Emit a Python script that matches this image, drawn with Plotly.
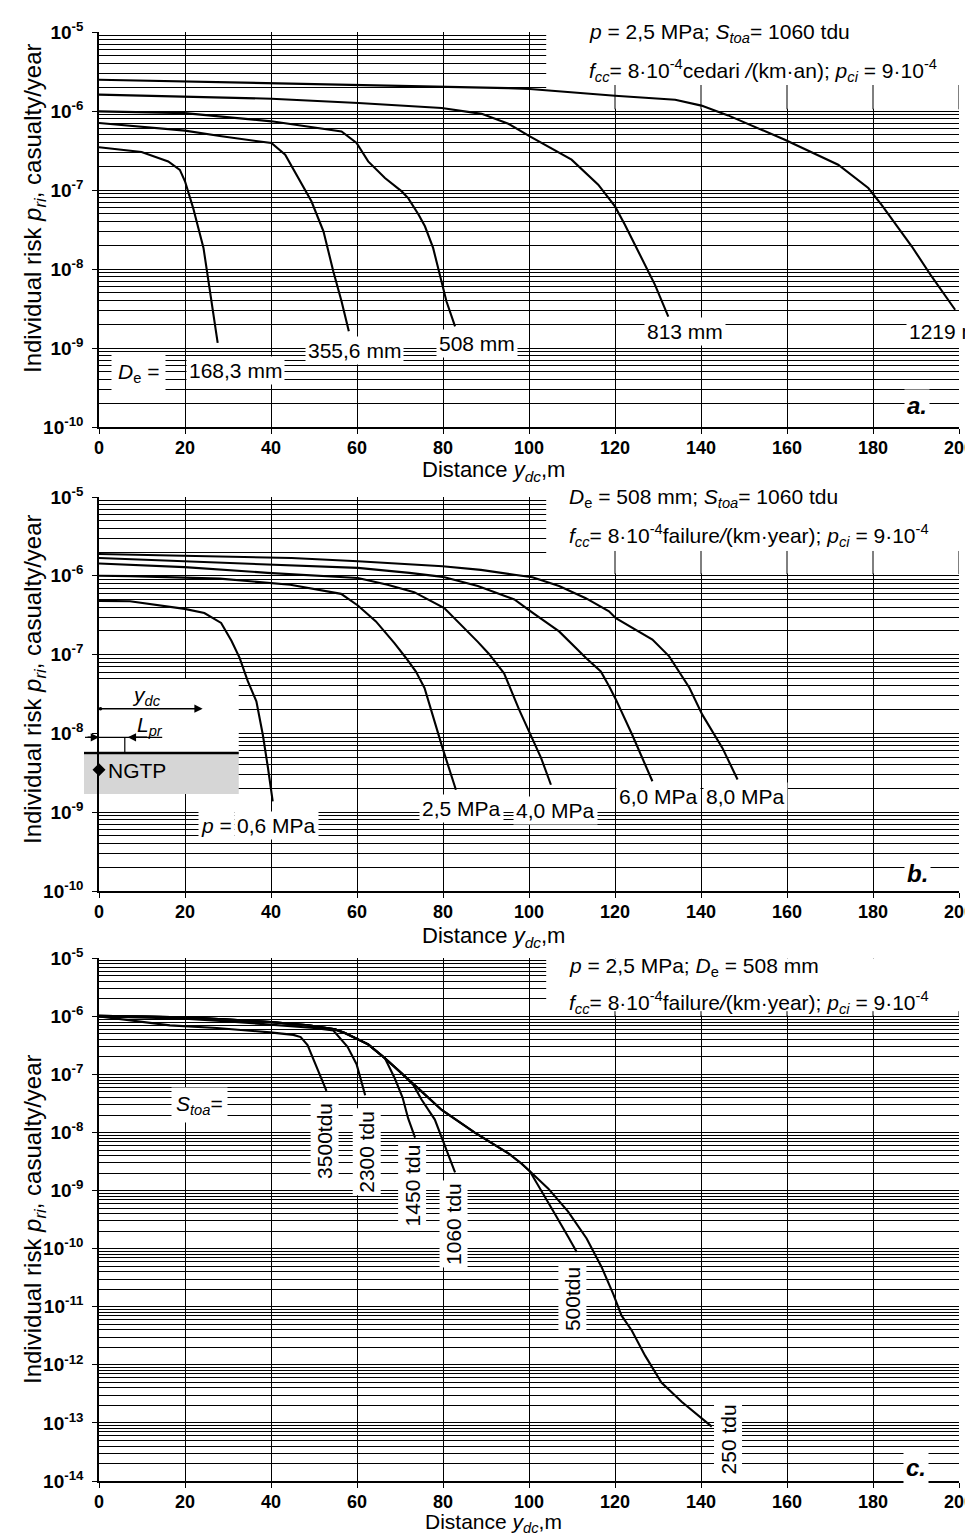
import math
import plotly.graph_objects as go

# ---------------------------------------------------------------- data
X_TICKS = [0, 20, 40, 60, 80, 100, 120, 140, 160, 180, 200]
Y_TICKS_AB = [1e-10, 1e-9, 1e-8, 1e-7, 1e-6, 1e-5]
Y_TEXT_AB = ["10<sup>-10</sup>", "10<sup>-9</sup>", "10<sup>-8</sup>",
             "10<sup>-7</sup>", "10<sup>-6</sup>", "10<sup>-5</sup>"]
Y_TICKS_C = [1e-14, 1e-13, 1e-12, 1e-11, 1e-10, 1e-9, 1e-8, 1e-7, 1e-6, 1e-5]
Y_TEXT_C = ["10<sup>-14</sup>", "10<sup>-13</sup>", "10<sup>-12</sup>", "10<sup>-11</sup>",
            "10<sup>-10</sup>", "10<sup>-9</sup>", "10<sup>-8</sup>", "10<sup>-7</sup>",
            "10<sup>-6</sup>", "10<sup>-5</sup>"]

# Panel a - outer diameter D_e
A_LABELS = ["168,3 mm", "355,6 mm", "508 mm", "813 mm", "1219 mm"]
A_X_168 = [0, 9.9, 16.1, 18.8, 20.0, 21.9, 24.3, 25.4, 26.2, 27.6]
A_Y_168 = [3.47e-7, 3.03e-7, 2.3e-7, 1.8e-7, 1.29e-7, 5.9e-8, 1.85e-8, 7.7e-9, 3.9e-9, 1.16e-9]
A_X_356 = [0, 20, 28.5, 34.7, 40.1, 43.3, 46.3, 49.4, 52.2, 54.5, 56.4, 58.1]
A_Y_356 = [7.05e-7, 5.64e-7, 4.78e-7, 4.33e-7, 3.93e-7, 2.8e-7, 1.42e-7, 7.2e-8, 3.0e-8,
           9.3e-9, 3.9e-9, 1.63e-9]
A_X_508 = [0, 20, 28.5, 40.1, 56.4, 59.9, 62.6, 66.5, 70.4, 71.9, 74.3, 75.8, 77.7, 79.7,
           80.8, 82.8]
A_Y_508 = [9.9e-7, 9.4e-7, 8.5e-7, 7.4e-7, 5.5e-7, 3.93e-7, 2.3e-7, 1.42e-7, 9.6e-8, 7.9e-8,
           4.9e-8, 3.47e-8, 1.85e-8, 7.0e-9, 3.9e-9, 1.88e-9]
A_X_813 = [0, 20, 40.1, 60.3, 79.7, 89, 95.2, 100.2, 109.9, 116.1, 120, 122.3, 126.2,
           129.3, 132.4]
A_Y_813 = [1.61e-6, 1.53e-6, 1.43e-6, 1.26e-6, 1.09e-6, 9.2e-7, 6.9e-7, 4.78e-7, 2.42e-7,
           1.17e-7, 6.2e-8, 3.64e-8, 1.38e-8, 6.3e-9, 2.5e-9]
A_X_1219 = [0, 40, 60.3, 95.2, 100.2, 120, 134, 140.1, 146.3, 159.5, 171.9, 178.9, 182,
            189, 193.6, 199.1]
A_Y_1219 = [2.49e-6, 2.26e-6, 2.11e-6, 1.95e-6, 1.9e-6, 1.56e-6, 1.39e-6, 1.17e-6, 8.8e-7,
            4.33e-7, 2.09e-7, 1.06e-7, 6.5e-8, 1.94e-8, 8.1e-9, 3.05e-9]

# Panel b - pressure p
B_LABELS = ["0,6 MPa", "2,5 MPa", "4,0 MPa", "6,0 MPa", "8,0 MPa"]
B_X_06 = [0, 7.2, 19.9, 24.5, 28.4, 30.8, 32.7, 34.6, 36.6, 38.1, 39.3, 40.4]
B_Y_06 = [4.8e-7, 4.75e-7, 3.8e-7, 3.37e-7, 2.52e-7, 1.5e-7, 9.1e-8, 4.6e-8, 2.55e-8,
          9.6e-9, 3.64e-9, 1.37e-9]
B_X_25 = [0, 7.2, 28.1, 44.5, 56.3, 60.2, 64.4, 68.7, 71.4, 73.7, 75.7, 78.0, 79.9, 83.0]
B_Y_25 = [1.0e-6, 9.9e-7, 9.2e-7, 7.7e-7, 5.9e-7, 4.2e-7, 2.64e-7, 1.4e-7, 9.06e-8, 6.1e-8,
          3.77e-8, 1.43e-8, 6.5e-9, 1.93e-9]
B_X_40 = [0, 19.9, 39.2, 60.2, 67.1, 73.3, 80.3, 85.3, 88.1, 90.7, 94.2, 97.7, 100.4,
          102.8, 105.1]
B_Y_40 = [1.43e-6, 1.29e-6, 1.09e-6, 9.4e-7, 7.7e-7, 6.2e-7, 3.9e-7, 2.1e-7, 1.45e-7,
          1.02e-7, 5.8e-8, 2.0e-8, 9.6e-9, 4.9e-9, 2.23e-9]
B_X_60 = [0, 19.1, 39.2, 60.2, 72.2, 79.9, 88.1, 91.5, 96.6, 100.8, 107.0, 113.2, 116.7,
          118.6, 120.2, 124.0, 126.4, 128.7]
B_Y_60 = [1.68e-6, 1.53e-6, 1.38e-6, 1.26e-6, 1.09e-6, 9.7e-7, 7.4e-7, 6.35e-7, 5.0e-7,
          3.4e-7, 1.97e-7, 9.1e-8, 6.1e-8, 4.0e-8, 2.7e-8, 9.6e-9, 4.9e-9, 2.47e-9]
B_X_80 = [0, 30.0, 44.8, 60.2, 74.1, 79.9, 88.8, 91.5, 96.6, 100.8, 107.0, 113.2, 118.6,
          120.2, 128.7, 132.6, 137.3, 140.3, 145.0, 148.5]
B_Y_80 = [1.89e-6, 1.77e-6, 1.68e-6, 1.53e-6, 1.38e-6, 1.32e-6, 1.19e-6, 1.14e-6, 1.03e-6,
          9.6e-7, 7.4e-7, 5.2e-7, 3.54e-7, 2.9e-7, 1.55e-7, 9.5e-8, 3.8e-8, 1.73e-8,
          6.5e-9, 2.6e-9]
B_NGTP_X = [0]
B_NGTP_Y = [3.46e-9]

# Panel c - S_toa
C_LABELS = ["3500tdu", "2300 tdu", "1450 tdu", "1060 tdu", "500tdu", "250 tdu"]
C_X_250 = [0, 10, 20, 30, 40, 48.7, 54.9, 57.2, 62.6, 66.5, 70.4, 74.3, 79.7, 87.4, 95.2,
           98.3, 100.2, 104.5, 109.1, 113.4, 116.9, 119.6, 121.5, 123.9, 127.0, 130.8,
           135.5, 142.5]
C_Y_250 = [1.02e-6, 1.0e-6, 9.6e-7, 8.8e-7, 8.0e-7, 7.0e-7, 6.0e-7, 5.2e-7, 3.3e-7, 1.9e-7,
           1.05e-7, 5.7e-8, 2.45e-8, 1.0e-8, 4.4e-9, 2.9e-9, 2.15e-9, 1.08e-9, 4.35e-10,
           1.5e-10, 4.8e-11, 1.65e-11, 7.1e-12, 3.9e-12, 1.44e-12, 4.97e-13, 2.32e-13,
           8.65e-14]
C_X_500 = [0, 10, 20, 30, 40, 48.7, 54.9, 57.2, 62.6, 66.5, 70.4, 74.3, 79.7, 87.4, 95.2,
           98.3, 100.2, 102.9, 106.0, 109.1, 111.1]
C_Y_500 = [1.02e-6, 1.0e-6, 9.6e-7, 8.8e-7, 8.0e-7, 7.0e-7, 6.0e-7, 5.2e-7, 3.3e-7, 1.9e-7,
           1.05e-7, 5.7e-8, 2.45e-8, 1.0e-8, 4.4e-9, 2.9e-9, 2.15e-9, 1.0e-9, 4.0e-10,
           1.6e-10, 8.8e-11]
C_X_1060 = [0, 10, 20, 30, 40, 48.7, 54.9, 57.2, 62.6, 66.5, 70.4, 73.1, 75.0, 78.1, 80.5,
            82.8]
C_Y_1060 = [1.02e-6, 1.0e-6, 9.6e-7, 8.8e-7, 8.0e-7, 7.0e-7, 6.0e-7, 5.2e-7, 3.3e-7, 1.9e-7,
            1.05e-7, 6.6e-8, 3.7e-8, 1.67e-8, 5.9e-9, 2.06e-9]
C_X_1450 = [0, 10, 20, 30, 40, 48.7, 54.9, 57.2, 62.6, 66.5, 68.8, 70.6, 71.9, 73.5]
C_Y_1450 = [1.0e-6, 9.9e-7, 9.5e-7, 8.7e-7, 7.9e-7, 6.9e-7, 5.9e-7, 5.1e-7, 3.3e-7, 1.9e-7,
            8.5e-8, 4.0e-8, 1.75e-8, 8.2e-9]
C_X_2300 = [0, 10, 20, 30, 40, 50, 54.5, 57.8, 59.9, 61.1, 61.9]
C_Y_2300 = [1.0e-6, 9.6e-7, 9.1e-7, 8.2e-7, 7.2e-7, 6.3e-7, 5.7e-7, 3.0e-7, 1.5e-7, 7.3e-8,
            4.4e-8]
C_X_3500 = [0, 10.3, 16.5, 27.4, 35.9, 39.8, 45.2, 46.9, 48.5, 50.0, 51.6, 52.9]
C_Y_3500 = [1.0e-6, 8.1e-7, 7.0e-7, 6.3e-7, 5.7e-7, 5.3e-7, 4.8e-7, 4.4e-7, 3.2e-7, 1.7e-7,
            9.0e-8, 5.2e-8]

# ---------------------------------------------------------------- layout constants
FONT = "Liberation Sans, Arial, Helvetica, sans-serif"
W, H = 973, 1536
C_TOP, C_BOT = 950.3, 1473.0
ML, MR, MT = 91, 22, 24
MB = H - C_BOT
PW = W - ML - MR
PH = H - MT - MB
BASE = H - MB  # pixel row of the bottom of the plotting area


def pap(px, py):
    return (px - ML) / PW, (BASE - py) / PH


def ydom(top_py, bot_py):
    return [(BASE - bot_py) / PH, (BASE - top_py) / PH]


def cpy(py):
    """Map a row measured with panel c spanning 950.3..1479 onto the drawn panel c."""
    return C_TOP + (py - 950.3) * (C_BOT - C_TOP) / (1479.0 - 950.3)


PANELS = [
    dict(s="", top=24.0, bot=419.0, lo=-10, hi=-5, ticks=Y_TICKS_AB, text=Y_TEXT_AB),
    dict(s="2", top=489.0, bot=883.0, lo=-10, hi=-5, ticks=Y_TICKS_AB, text=Y_TEXT_AB),
    dict(s="3", top=C_TOP, bot=C_BOT, lo=-14, hi=-5, ticks=Y_TICKS_C, text=Y_TEXT_C),
]

fig = go.Figure()
LINE = dict(color="black", width=2.1)


def add_curve(x, y, s):
    fig.add_trace(go.Scatter(x=x, y=y, mode="lines", line=LINE, xaxis="x" + s,
                             yaxis="y" + s, showlegend=False, hoverinfo="skip"))


for xs, ys in [(A_X_168, A_Y_168), (A_X_356, A_Y_356), (A_X_508, A_Y_508),
               (A_X_813, A_Y_813), (A_X_1219, A_Y_1219)]:
    add_curve(xs, ys, "")
for xs, ys in [(B_X_06, B_Y_06), (B_X_25, B_Y_25), (B_X_40, B_Y_40),
               (B_X_60, B_Y_60), (B_X_80, B_Y_80)]:
    add_curve(xs, ys, "2")
for xs, ys in [(C_X_3500, C_Y_3500), (C_X_2300, C_Y_2300), (C_X_1450, C_Y_1450),
               (C_X_1060, C_Y_1060), (C_X_500, C_Y_500), (C_X_250, C_Y_250)]:
    add_curve(xs, ys, "3")

fig.add_trace(go.Scatter(x=B_NGTP_X, y=B_NGTP_Y, mode="markers", xaxis="x2", yaxis="y2",
                         marker=dict(symbol="diamond", size=10, color="black"),
                         cliponaxis=False, showlegend=False, hoverinfo="skip"))

layout = dict(width=W, height=H, margin=dict(l=ML, r=MR, t=MT, b=MB, autoexpand=False),
              paper_bgcolor="white", plot_bgcolor="white", showlegend=False,
              template="none", font=dict(family=FONT, color="black"))

for p in PANELS:
    s = p["s"]
    minor_vals = [m * 10.0 ** k for k in range(p["lo"], p["hi"]) for m in range(2, 10)]
    layout["xaxis" + s] = dict(
        domain=[0, 1], anchor="y" + s, range=[0, 200], tickmode="array",
        tickvals=X_TICKS, ticktext=[str(v) for v in X_TICKS], automargin=False,
        showgrid=True, gridcolor="black", gridwidth=1, zeroline=False,
        showline=True, linecolor="black", linewidth=1.5, ticks="outside", ticklen=5,
        ticklabelstandoff=-1,
        tickcolor="black", tickfont=dict(family=FONT, size=18, color="black", weight="bold"))
    layout["yaxis" + s] = dict(
        domain=ydom(p["top"], p["bot"]), anchor="x" + s, type="log", automargin=False,
        range=[p["lo"], p["hi"]], tickmode="array", tickvals=p["ticks"], ticktext=p["text"],
        showgrid=True, gridcolor="black", gridwidth=1, zeroline=False,
        minor=dict(tickmode="array", tickvals=minor_vals, showgrid=True, gridcolor="black",
                   gridwidth=1, ticks=""),
        showline=True, linecolor="black", linewidth=1.5, ticks="outside", ticklen=5,
        ticklabelstandoff=5,
        tickcolor="black", tickfont=dict(family=FONT, size=19, color="black", weight="bold"))

shapes = []

# white header boxes (cover the grid under the header text) + remaining vertical segments
HEADER = [(10 ** -5.97, 10 ** -5.671), (10 ** -5.97, 10 ** -5.685), (10 ** -5.985, 10 ** -5.91)]
for p, (ybot, vtop) in zip(PANELS, HEADER):
    s = p["s"]
    shapes.append(dict(type="rect", xref="x" + s, yref="y" + s, x0=104, x1=205,
                       y0=ybot, y1=2e-5, fillcolor="white", line=dict(width=0),
                       layer="between"))
    for xv in X_TICKS:
        if xv > 104:
            shapes.append(dict(type="line", xref="x" + s, yref="y" + s, x0=xv, x1=xv,
                               y0=ybot * 0.98, y1=vtop, line=dict(color="black", width=1),
                               layer="between"))

# panel b inset (pipeline sketch) inside the plot area
INSET_X = (0, 32.5)
INSET_TOP, INSET_PIPE, INSET_BOT = 10 ** -7.31, 10 ** -8.249, 10 ** -8.769
LPR_Y = 10 ** -8.05
shapes.append(dict(type="rect", xref="x2", yref="y2", x0=INSET_X[0], x1=INSET_X[1],
                   y0=INSET_PIPE, y1=INSET_TOP, fillcolor="white", line=dict(width=0),
                   layer="between"))
shapes.append(dict(type="rect", xref="x2", yref="y2", x0=INSET_X[0], x1=INSET_X[1],
                   y0=INSET_BOT, y1=INSET_PIPE, fillcolor="#d6d6d6", line=dict(width=0),
                   layer="between"))
shapes.append(dict(type="line", xref="x2", yref="y2", x0=INSET_X[0], x1=INSET_X[1],
                   y0=INSET_PIPE, y1=INSET_PIPE, line=dict(color="black", width=2.5),
                   layer="between"))
shapes.append(dict(type="line", xref="x2", yref="y2", x0=0, x1=14.7,
                   y0=LPR_Y, y1=LPR_Y, line=dict(color="black", width=1.2),
                   layer="between"))
shapes.append(dict(type="line", xref="x2", yref="y2", x0=6.0, x1=6.0,
                   y0=LPR_Y, y1=INSET_PIPE, line=dict(color="black", width=1.2),
                   layer="between"))


# the part of the inset that sticks out left of the y axis (paper coordinates)
def paper_rect(px0, px1, py0, py1, color):
    x0, y0 = pap(px0, py1)
    x1, y1 = pap(px1, py0)
    return dict(type="rect", xref="paper", yref="paper", x0=x0, x1=x1, y0=y0, y1=y1,
                fillcolor=color, line=dict(width=0), layer="below")


def b_py(v):
    p = PANELS[1]
    return p["top"] + (-5 - math.log10(v)) * (p["bot"] - p["top"]) / 5


shapes.append(paper_rect(76, 91, b_py(INSET_PIPE), b_py(INSET_BOT), "#d6d6d6"))
shapes.append(paper_rect(76, 91, b_py(INSET_PIPE) - 1.2, b_py(INSET_PIPE) + 1.2, "black"))
shapes.append(paper_rect(77, 91, b_py(LPR_Y) - 0.6, b_py(LPR_Y) + 0.6, "black"))
layout["shapes"] = shapes

ann = []


def text(px, py, t, size=21, xanchor="center", angle=0, bg="white", pad=2, **kw):
    x, y = pap(px, py)
    d = dict(xref="paper", yref="paper", x=x, y=y, text=t, showarrow=False,
             xanchor=xanchor, yanchor="middle", textangle=angle,
             font=dict(family=FONT, size=size, color="black"), borderpad=pad)
    if bg:
        d["bgcolor"] = bg
    d.update(kw)
    ann.append(d)


# axis titles
YT = "Individual risk <i>p<sub>ri</sub></i>, casualty/year"
XT = "Distance <i>y<sub>dc</sub></i>,m"
for cy in (201, 672, cpy(1215)):
    text(27, cy, YT, size=24, angle=-90, bg=None)
for cy, sz in ((463, 22), (929, 22), (1515, 21)):
    text(485, cy, XT, size=sz, bg=None, pad=0)

# headers
L2_A = ("<i>f<sub>cc</sub></i>= 8·10<sup>-4</sup>cedari <i>/</i>(km·an); "
        "<i>p<sub>ci</sub></i> = 9·10<sup>-4</sup>")
L2_BC = ("<i>f<sub>cc</sub></i>= 8·10<sup>-4</sup>failure<i>/</i>(km·year); "
         "<i>p<sub>ci</sub></i> = 9·10<sup>-4</sup>")
text(578, 25, "<i>p</i> = 2,5 MPa; <i>S<sub>toa</sub></i>= 1060 tdu", xanchor="left", bg=None)
text(578, 62, L2_A, xanchor="left", bg=None)
text(558, 490, "<i>D</i><sub>e</sub> = 508 mm; <i>S<sub>toa</sub></i>= 1060 tdu",
     xanchor="left", bg=None)
text(558, 527, L2_BC, xanchor="left", bg=None)
text(558, 959, "<i>p</i> = 2,5 MPa; <i>D</i><sub>e</sub> = 508 mm", xanchor="left", bg=None)
text(558, 994, L2_BC, xanchor="left", bg=None)

# panel a labels
text(130, 365, "<i>D</i><sub>e</sub> =", pad=6)
for (px, py), lab in zip([(227, 363), (346, 343), (469, 335), (677, 323)], A_LABELS[:4]):
    text(px, py, lab)
text(898, 323, A_LABELS[4], xanchor="left")
text(909, 398, "<b><i>a.</i></b>", size=24, pad=2)

# panel b labels
text(208, 817, "<i>p</i> =")
for (px, py), lab in zip([(268, 817), (453, 800), (547, 802), (650, 788), (737, 788)],
                         B_LABELS):
    text(px, py, lab)
text(909, 865, "<b><i>b.</i></b>", size=24, pad=2)
text(138, 688, "<i>y<sub>dc</sub></i>", bg=None)
text(142, 718, "<i>L<sub>pr</sub></i>", bg=None)
text(97, 762, "NGTP", xanchor="left", bg=None)

# panel c labels
text(191, cpy(1099), "<i>S<sub>toa</sub></i>=", pad=4)
for (px, py), lab in zip([(317, 1135), (359, 1146), (404, 1180), (446, 1219), (564, 1295),
                          (720, 1437)], C_LABELS):
    text(px, cpy(py), lab, angle=-90)
text(908, cpy(1465), "<b><i>c.</i></b>", size=24, pad=2)

# inset arrows (panel b), positions in data units of x2 / log10 of y2
ARROW = dict(showarrow=True, arrowhead=2, arrowsize=1.1, arrowwidth=1.5,
             arrowcolor="black", text="", xref="x2", yref="y2", axref="x2", ayref="y2",
             standoff=0, startstandoff=0)
ann.append(dict(ARROW, x=24.1, y=-7.687, ax=0, ay=-7.687, arrowside="end+start",
                startarrowhead=6, startarrowsize=0.6))
ann.append(dict(ARROW, x=0, y=math.log10(LPR_Y), ax=-3.0, ay=math.log10(LPR_Y)))
ann.append(dict(ARROW, x=6.7, y=math.log10(LPR_Y), ax=11.5, ay=math.log10(LPR_Y)))

layout["annotations"] = ann
fig.update_layout(**layout)
fig.write_html("out.html")
